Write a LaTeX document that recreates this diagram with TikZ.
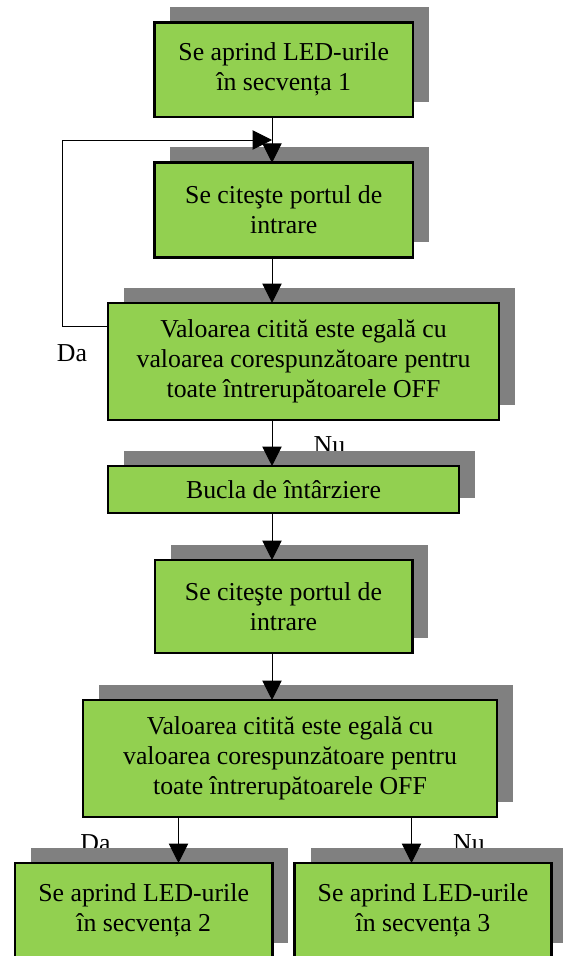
\documentclass[tikz,border=0pt]{standalone}
\usepackage{fontspec}
\setmainfont{Liberation Serif}
\usetikzlibrary{arrows.meta,shadows,calc}

\definecolor{boxgreen}{RGB}{146,208,80}
\definecolor{shadowgray}{RGB}{128,128,128}

\tikzset{every picture/.style={line width=0.75pt}}
\tikzset{
  stepbox/.style={draw=black, line width=1.9pt, fill=boxgreen, align=center,
    inner sep=0.75pt, outer sep=0pt, font=\fontsize{19.35pt}{22.5pt}\selectfont,
    general shadow={fill=shadowgray, shadow xshift=12pt, shadow yshift=11.6pt}},
  flow/.style={-{Triangle[length=14.5pt,width=14.5pt]}, line width=0.75pt},
  answer/.style={anchor=base, inner sep=0.75pt, font=\fontsize{19.35pt}{22.5pt}\selectfont},
}

\begin{document}
\begin{tikzpicture}[x=0.75pt,y=0.75pt,yscale=-1,xscale=1]
\useasboundingbox (0,0) rectangle (563,956);
%axes of the connectors
\coordinate (axis) at (272,0);
\coordinate (daaxis) at (178.5,0);
\coordinate (nuaxis) at (411.5,0);
\coordinate (loopc) at (62,140);

% Text Node
\draw (72,361.7) node [answer] (da1) {Da};
% Text Node
\draw (329.5,453) node [answer] (nu1) {Nu};
% Text Node
\draw (95.5,851) node [answer] (da2) {Da};
% Text Node
\draw (469,851) node [answer] (nu2) {Nu};

%Shape: Rectangle
\node [stepbox, minimum width=193.9pt, minimum height=70.9pt] (b1) at (283.75,69.75)
  {Se aprind LED-urile\\în secvența 1};
%Shape: Rectangle
\node [stepbox, minimum width=193.9pt, minimum height=70.9pt] (b2) at (283.75,210)
  {Se citeşte portul de\\intrare};
%Shape: Rectangle
\node [stepbox, minimum width=293.3pt, minimum height=87.8pt] (b3) at (303.5,361.5)
  {Valoarea citită este egală cu\\valoarea corespunzătoare pentru\\toate întrerupătoarele OFF};
%Shape: Rectangle
\node [stepbox, minimum width=263.3pt, minimum height=35.3pt] (b4) at (283.5,489.5)
  {Bucla de întârziere};
%Shape: Rectangle
\node [stepbox, minimum width=193.1pt, minimum height=69.8pt] (b5) at (283.5,606.5)
  {Se citeşte portul de\\intrare};
%Shape: Rectangle
\node [stepbox, minimum width=310.5pt, minimum height=87.8pt] (b6) at (290,758.5)
  {Valoarea citită este egală cu\\valoarea corespunzătoare pentru\\toate întrerupătoarele OFF};
%Shape: Rectangle
\node [stepbox, minimum width=193pt, minimum height=71.3pt] (b7) at (143.7,910.5)
  {Se aprind LED-urile\\în secvența 2};
%Shape: Rectangle
\node [stepbox, minimum width=192.5pt, minimum height=71.3pt] (b8) at (423,910.5)
  {Se aprind LED-urile\\în secvența 3};

%Straight Lines
\draw [flow] (b1.south -| axis) -- (b2.north -| axis);
\draw [flow] (b2.south -| axis) -- (b3.north -| axis);
\draw [flow] (b3.south -| axis) -- (b4.north -| axis);
\draw [flow] (b4.south -| axis) -- (b5.north -| axis);
\draw [flow] (b5.south -| axis) -- (b6.north -| axis);
\draw [flow] (b6.south -| daaxis) -- (b7.north -| daaxis);
\draw [flow] (b6.south -| nuaxis) -- (b8.north -| nuaxis);
%loop back for Da
\draw [flow] ($(b3.north west)+(0,23.5)$) -| (loopc) -- (loopc -| axis);

\end{tikzpicture}
\end{document}
